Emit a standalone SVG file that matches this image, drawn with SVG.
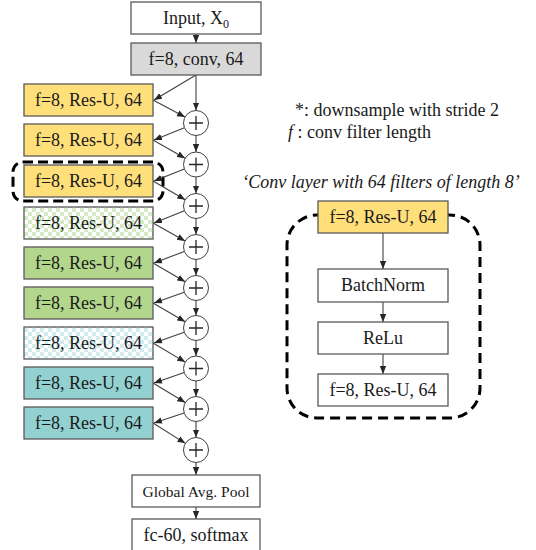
<svg xmlns="http://www.w3.org/2000/svg" width="536" height="550" viewBox="0 0 536 550">
<defs>
<marker id="ah" markerUnits="userSpaceOnUse" markerWidth="8" markerHeight="8" viewBox="0 0 8 8" refX="8" refY="4" orient="auto">
<path d="M0,0.8 L8,4 L0,7.2 Z" fill="#262626"/>
</marker>
<pattern id="chkG" width="8" height="8" patternUnits="userSpaceOnUse">
<rect width="8" height="8" fill="#ffffff"/>
<rect width="4" height="4" fill="#d6eac6"/>
<rect x="4" y="4" width="4" height="4" fill="#d6eac6"/>
</pattern>
<pattern id="chkB" width="8" height="8" patternUnits="userSpaceOnUse">
<rect width="8" height="8" fill="#ffffff"/>
<rect width="4" height="4" fill="#d2ebee"/>
<rect x="4" y="4" width="4" height="4" fill="#d2ebee"/>
</pattern>
</defs>
<style>
.box{stroke:#595959;stroke-width:1.3}
.t{font-family:"Liberation Serif","Times New Roman",serif;font-size:18px;fill:#1a1a1a;text-anchor:middle}
.ts{font-family:"Liberation Serif","Times New Roman",serif;font-size:15.5px;fill:#1a1a1a;text-anchor:middle}
.note{font-family:"Liberation Serif","Times New Roman",serif;font-size:18px;fill:#1a1a1a}
.c{fill:#fff;stroke:#404040;stroke-width:1}
.pl{stroke:#262626;stroke-width:1.3;fill:none}
.ar{stroke:#404040;stroke-width:1.1;fill:none;marker-end:url(#ah)}
.dash{fill:none;stroke:#000;stroke-width:3;stroke-dasharray:10 6}
.yel{fill:#ffdf7a}.grn{fill:#b3d68d}.teal{fill:#93d1d1}.wh{fill:#fff}.gry{fill:#d9d9d9}
</style>

<rect class="dash" x="287" y="215" width="193" height="203" rx="30"/>
<rect class="dash" x="13" y="162" width="150" height="39" rx="10" style="stroke-dasharray:10 5"/>

<g id="connectors">
<line class="ar" x1="196" y1="34" x2="196" y2="43"/>
<line class="ar" x1="196" y1="75" x2="196" y2="110.5"/>
<line class="ar" x1="196" y1="75" x2="154" y2="100"/>
<line class="ar" x1="153" y1="100" x2="185" y2="117.1"/>
<line class="ar" x1="153" y1="140" x2="185.1" y2="158.3"/>
<line class="ar" x1="153" y1="181" x2="185.2" y2="199.7"/>
<line class="ar" x1="153" y1="223" x2="185.1" y2="240.9"/>
<line class="ar" x1="153" y1="263" x2="185.2" y2="281.7"/>
<line class="ar" x1="153" y1="303" x2="185.2" y2="321.7"/>
<line class="ar" x1="153" y1="343" x2="185.25" y2="362.1"/>
<line class="ar" x1="153" y1="383" x2="185.3" y2="402.5"/>
<line class="ar" x1="153" y1="423" x2="185.4" y2="443.35"/>
<line class="ar" x1="184.4" y1="127.7" x2="154" y2="140"/>
<line class="ar" x1="184.4" y1="169.1" x2="154" y2="181"/>
<line class="ar" x1="184.4" y1="210.7" x2="154" y2="223"/>
<line class="ar" x1="184.3" y1="251.45" x2="154" y2="263"/>
<line class="ar" x1="184.2" y1="292.2" x2="154" y2="303"/>
<line class="ar" x1="184.2" y1="332.2" x2="154" y2="343"/>
<line class="ar" x1="184.2" y1="372.6" x2="154" y2="383"/>
<line class="ar" x1="184.1" y1="413" x2="154" y2="423"/>
<line class="ar" x1="196" y1="135.5" x2="196" y2="152"/>
<line class="ar" x1="196" y1="177" x2="196" y2="193.5"/>
<line class="ar" x1="196" y1="218.5" x2="196" y2="234.5"/>
<line class="ar" x1="196" y1="259.5" x2="196" y2="275.5"/>
<line class="ar" x1="196" y1="300.5" x2="196" y2="315.5"/>
<line class="ar" x1="196" y1="340.5" x2="196" y2="356"/>
<line class="ar" x1="196" y1="381" x2="196" y2="396.5"/>
<line class="ar" x1="196" y1="421.5" x2="196" y2="437.5"/>
<line class="ar" x1="196" y1="462.5" x2="196" y2="475"/>
<line class="ar" x1="196" y1="507" x2="196" y2="519"/>
<line class="ar" x1="383" y1="233" x2="383" y2="269"/>
<line class="ar" x1="383" y1="302" x2="383" y2="322"/>
<line class="ar" x1="383" y1="354" x2="383" y2="374"/>
</g>

<g id="input"><rect class="box wh" x="131" y="2" width="130" height="32"/><text class="t" x="196" y="24">Input, X<tspan font-size="12" dy="4">0</tspan></text></g>
<g id="conv"><rect class="box gry" x="131" y="43" width="130" height="32"/><text class="t" x="196" y="65">f=8, conv, 64</text></g>

<g id="res1"><rect class="box yel" x="24" y="84" width="129" height="32"/><text class="t" x="88.5" y="106">f=8, Res-U, 64</text></g>
<g id="res2"><rect class="box yel" x="24" y="124" width="129" height="32"/><text class="t" x="88.5" y="146">f=8, Res-U, 64</text></g>
<g id="res3"><rect class="box yel" x="24" y="165" width="129" height="32"/><text class="t" x="88.5" y="187">f=8, Res-U, 64</text></g>
<g id="res4"><rect class="box" fill="url(#chkG)" x="24" y="207" width="129" height="32"/><text class="t" x="88.5" y="229">f=8, Res-U, 64</text></g>
<g id="res5"><rect class="box grn" x="24" y="247" width="129" height="32"/><text class="t" x="88.5" y="269">f=8, Res-U, 64</text></g>
<g id="res6"><rect class="box grn" x="24" y="287" width="129" height="32"/><text class="t" x="88.5" y="309">f=8, Res-U, 64</text></g>
<g id="res7"><rect class="box" fill="url(#chkB)" x="24" y="327" width="129" height="32"/><text class="t" x="88.5" y="349">f=8, Res-U, 64</text></g>
<g id="res8"><rect class="box teal" x="24" y="367" width="129" height="32"/><text class="t" x="88.5" y="389">f=8, Res-U, 64</text></g>
<g id="res9"><rect class="box teal" x="24" y="407" width="129" height="32"/><text class="t" x="88.5" y="429">f=8, Res-U, 64</text></g>

<g id="add1"><circle class="c" cx="196" cy="123" r="12.5"/><path class="pl" d="M189,123H203M196,116V130"/></g>
<g id="add2"><circle class="c" cx="196" cy="164.5" r="12.5"/><path class="pl" d="M189,164.5H203M196,157.5V171.5"/></g>
<g id="add3"><circle class="c" cx="196" cy="206" r="12.5"/><path class="pl" d="M189,206H203M196,199V213"/></g>
<g id="add4"><circle class="c" cx="196" cy="247" r="12.5"/><path class="pl" d="M189,247H203M196,240V254"/></g>
<g id="add5"><circle class="c" cx="196" cy="288" r="12.5"/><path class="pl" d="M189,288H203M196,281V295"/></g>
<g id="add6"><circle class="c" cx="196" cy="328" r="12.5"/><path class="pl" d="M189,328H203M196,321V335"/></g>
<g id="add7"><circle class="c" cx="196" cy="368.5" r="12.5"/><path class="pl" d="M189,368.5H203M196,361.5V375.5"/></g>
<g id="add8"><circle class="c" cx="196" cy="409" r="12.5"/><path class="pl" d="M189,409H203M196,402V416"/></g>
<g id="add9"><circle class="c" cx="196" cy="450" r="12.5"/><path class="pl" d="M189,450H203M196,443V457"/></g>

<g id="gap"><rect class="box wh" x="132" y="475" width="128" height="32"/><text class="ts" x="196" y="496.5">Global Avg. Pool</text></g>
<g id="fc"><rect class="box wh" x="132" y="519" width="128" height="33"/><text class="t" x="196" y="541">fc-60, softmax</text></g>

<g id="notes">
<text class="note" x="295" y="116">*: downsample with stride 2</text>
<text class="note" x="288" y="138"><tspan font-style="italic">f</tspan> : conv filter length</text>
<text class="note" x="381" y="188" text-anchor="middle" font-style="italic" font-size="16.5">‘Conv layer with 64 filters of length 8’</text>
</g>

<g id="detail1"><rect class="box yel" x="318" y="201" width="130" height="32"/><text class="t" x="383" y="223">f=8, Res-U, 64</text></g>
<g id="batchnorm"><rect class="box wh" x="318" y="269" width="130" height="33"/><text class="t" x="383" y="291">BatchNorm</text></g>
<g id="relu"><rect class="box wh" x="318" y="322" width="130" height="32"/><text class="t" x="383" y="344">ReLu</text></g>
<g id="detail2"><rect class="box wh" x="318" y="374" width="130" height="32"/><text class="t" x="383" y="396">f=8, Res-U, 64</text></g>
</svg>
